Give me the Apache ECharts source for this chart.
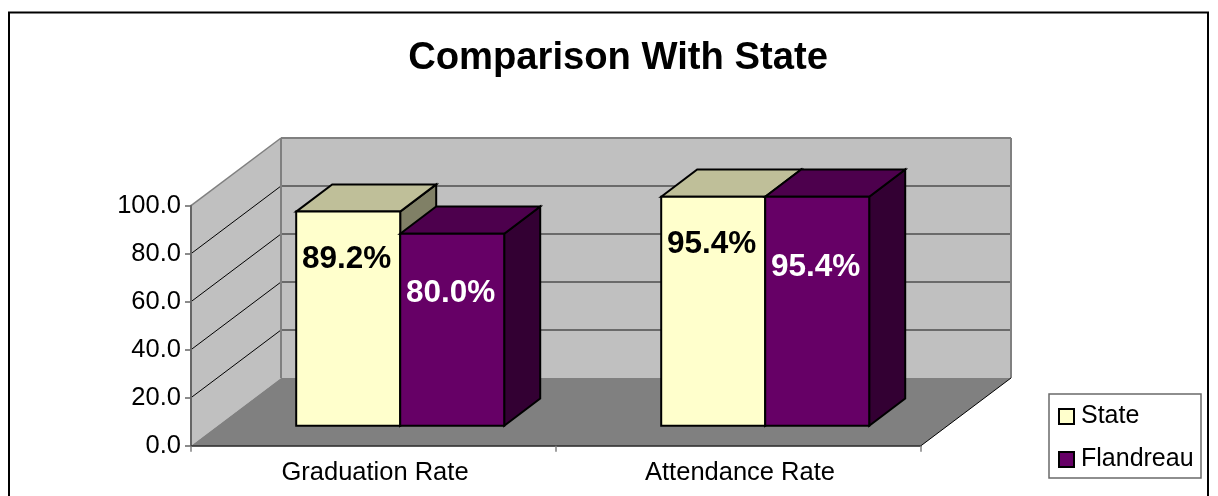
<!DOCTYPE html>
<html>
<head>
<meta charset="utf-8">
<style>html,body{margin:0;padding:0;background:#fff;overflow:hidden}#c{width:1218px;height:496px}</style>
<script src="https://cdn.jsdelivr.net/npm/echarts@6/dist/echarts.min.js"></script>
</head>
<body>
<div id="c"></div>
<script>
const categories = ['Graduation Rate', 'Attendance Rate'];
const stateValues = [89.2, 95.4];
const flandreauValues = [80.0, 95.4];
const yTicks = [20, 40, 60, 80];

const FONT = '"Liberation Sans", Arial, sans-serif';
// oblique projection: how far the back wall sits from the front plane, in px
const WALL_DX = 90, WALL_DY = 67.7;
const BAR_INSET_DX = 26.7, BAR_INSET_DY = 20;
const BAR_DX = 36, BAR_DY = 27.2, BAR_W = 104;

function wallBox(api) {
  const half = api.size([1, 0])[0] / 2;
  const a = api.coord([0, 0]), b = api.coord([1, 100]);
  return { x0: a[0] - half, x1: b[0] + half, y0: a[1], y1: b[1] };
}
function line(x1, y1, x2, y2, stroke, lineWidth) {
  return { type: 'line', shape: { x1, y1, x2, y2 }, style: { stroke, lineWidth, fill: null } };
}
function poly(points, fill, stroke, lineWidth) {
  return { type: 'polygon', shape: { points }, style: { fill, stroke: stroke || null, lineWidth: lineWidth || 0, lineJoin: 'miter' } };
}
function renderWalls(params, api) {
  const b = wallBox(api), dx = WALL_DX, dy = WALL_DY;
  const kids = [
    poly([[b.x0 + dx, b.y1 - dy], [b.x1 + dx, b.y1 - dy], [b.x1 + dx, b.y0 - dy], [b.x0 + dx, b.y0 - dy]], '#c0c0c0'),
    poly([[b.x0, b.y0], [b.x0, b.y1], [b.x0 + dx, b.y1 - dy], [b.x0 + dx, b.y0 - dy]], '#c0c0c0'),
    poly([[b.x0, b.y0], [b.x1, b.y0], [b.x1 + dx, b.y0 - dy], [b.x0 + dx, b.y0 - dy]], '#808080')
  ];
  yTicks.forEach(function (v) {
    const y = api.coord([0, v])[1];
    kids.push(line(b.x0, y, b.x0 + dx, y - dy, '#000', 1));
    kids.push(line(b.x0 + dx, y - dy, b.x1 + dx, y - dy, '#6a6a6a', 2));
  });
  kids.push(line(b.x0 + dx, b.y1 - dy, b.x1 + dx, b.y1 - dy, '#808080', 2));
  kids.push(line(b.x0 + dx, b.y1 - dy, b.x0 + dx, b.y0 - dy, '#808080', 2));
  kids.push(line(b.x1 + dx, b.y1 - dy, b.x1 + dx, b.y0 - dy, '#808080', 2));
  kids.push(line(b.x0, b.y1, b.x0 + dx, b.y1 - dy, '#808080', 1.5));
  kids.push(line(b.x1, b.y0, b.x1 + dx, b.y0 - dy, '#000', 1));
  return { type: 'group', children: kids };
}
function barRenderer(side, colors, labelFill, labelDrops) {
  return function (params, api) {
    const cat = api.value(0), val = api.value(1);
    const c = api.coord([cat, val]), base = api.coord([cat, 0]);
    const cx = c[0] + BAR_INSET_DX;
    const l = side === 0 ? cx - BAR_W : cx, r = l + BAR_W;
    const t = c[1] - BAR_INSET_DY, bt = base[1] - BAR_INSET_DY;
    const dx = BAR_DX, dy = BAR_DY;
    return { type: 'group', children: [
      poly([[r, t], [r + dx, t - dy], [r + dx, bt - dy], [r, bt]], colors[2], '#000', 2),
      poly([[l, t], [l + dx, t - dy], [r + dx, t - dy], [r, t]], colors[1], '#000', 2),
      poly([[l, t], [r, t], [r, bt], [l, bt]], colors[0], '#000', 2),
      { type: 'text', z2: 10, style: {
        text: val.toFixed(1) + '%', x: (l + r) / 2 - 1.5, y: t + labelDrops[params.dataIndex],
        font: 'bold 31.5px ' + FONT, fill: labelFill, align: 'center', verticalAlign: 'middle'
      } }
    ] };
  };
}

const chart = echarts.init(document.getElementById('c'), null, { renderer: 'canvas' });
chart.setOption({
  animation: false,
  backgroundColor: '#fff',
  title: {
    text: 'Comparison With State', left: 613, top: 34, textAlign: 'center',
    textStyle: { fontFamily: FONT, fontWeight: 'bold', fontSize: 38.2, color: '#000' }
  },
  graphic: [
    { type: 'rect', silent: true, z: -1, shape: { x: 9, y: 12.5, width: 1199, height: 500 }, style: { fill: null, stroke: '#000', lineWidth: 2 } },
    { type: 'rect', silent: true, z: 0, shape: { x: 1049, y: 394, width: 152, height: 84 }, style: { fill: '#fff', stroke: '#6a6a6a', lineWidth: 1.5 } }
  ],
  legend: {
    orient: 'vertical', left: 1058, top: 404, padding: 0, itemGap: 18,
    itemWidth: 15, itemHeight: 15, selectedMode: false, icon: 'rect',
    textStyle: { fontFamily: FONT, fontSize: 25, color: '#000', padding: [0, 0, 4, 2] },
    data: [
      { name: 'State', itemStyle: { color: '#ffffcc', borderColor: '#000', borderWidth: 2 } },
      { name: 'Flandreau', itemStyle: { color: '#660066', borderColor: '#000', borderWidth: 2 } }
    ]
  },
  grid: { left: 191, right: 297, top: 205.7, height: 240 },
  xAxis: {
    type: 'category', data: categories, z: 6,
    axisLine: { lineStyle: { color: '#222', width: 1.5 } },
    axisTick: { show: true, length: 6, lineStyle: { color: '#808080', width: 1.5 } },
    axisLabel: { fontFamily: FONT, fontSize: 25.5, color: '#000', margin: 14, padding: [0, 0, 0, 3], showMinLabel: true, showMaxLabel: true },
    splitLine: { show: false }
  },
  yAxis: {
    type: 'value', min: 0, max: 100, interval: 20, z: 6,
    axisLine: { show: true, lineStyle: { color: '#666', width: 2 } },
    axisTick: { show: true, length: 6, lineStyle: { color: '#666', width: 1.5 } },
    axisLabel: { fontFamily: FONT, fontSize: 25.5, color: '#000', margin: 10, formatter: function (v) { return v.toFixed(1); } },
    splitLine: { show: false }
  },
  series: [
    { type: 'custom', name: 'walls', silent: true, z: 1, data: [[0, 0]], encode: { x: 0, y: 1 }, renderItem: renderWalls },
    { type: 'custom', name: 'State', silent: true, z: 2, itemStyle: { color: '#ffffcc' },
      data: stateValues.map(function (v, i) { return [i, v]; }), encode: { x: 0, y: 1 },
      renderItem: barRenderer(0, ['#ffffcc', '#bfbf99', '#808066'], '#000', [48, 48]) },
    { type: 'custom', name: 'Flandreau', silent: true, z: 3, itemStyle: { color: '#660066' },
      data: flandreauValues.map(function (v, i) { return [i, v]; }), encode: { x: 0, y: 1 },
      renderItem: barRenderer(1, ['#660066', '#4d004d', '#330033'], '#fff', [60, 71]) }
  ]
});
</script>
</body>
</html>
